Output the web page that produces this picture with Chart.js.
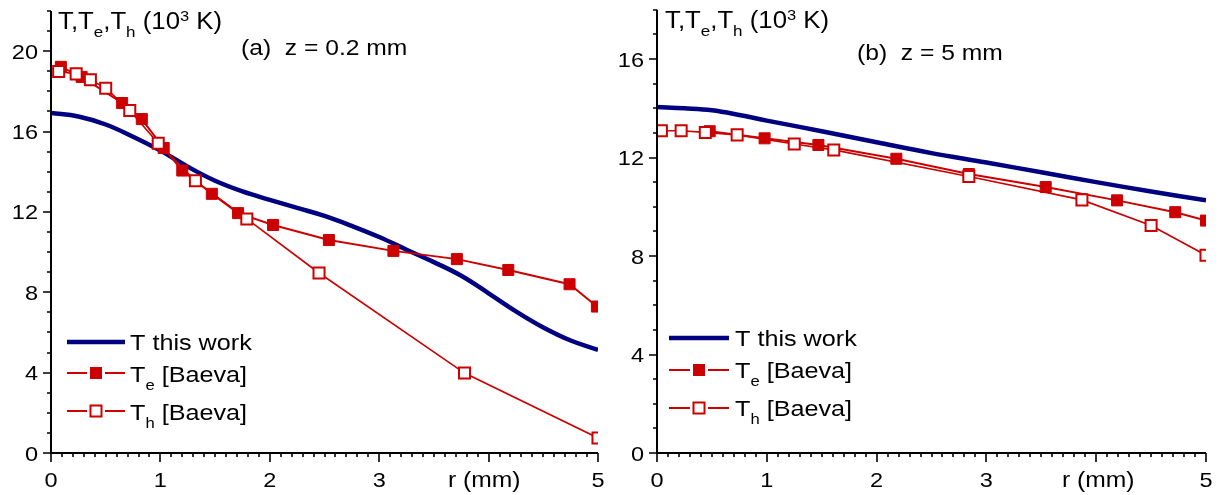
<!DOCTYPE html>
<html><head><meta charset="utf-8">
<script src="https://cdn.jsdelivr.net/npm/chart.js@4/dist/chart.umd.min.js"></script>
<style>
html,body{margin:0;padding:0;background:#fff;}
#wrap{position:relative;width:1221px;height:495px;overflow:hidden;}
canvas{position:absolute;top:0;}
#ca{left:0;}
#cb{left:610px;}
</style></head><body>
<div id="wrap"><canvas id="ca" width="610" height="495"></canvas><canvas id="cb" width="611" height="495"></canvas></div>
<script>
// ---------- DATA ----------
// Panel (a): z = 0.2 mm
const aR_T  = [0,0.25,0.5,0.75,1.0,1.25,1.5,1.75,2.0,2.25,2.5,2.75,3.0,3.25,3.5,3.75,4.0,4.25,4.5,4.75,5.0];
const aT    = [16.92,16.75,16.35,15.74,15.05,14.25,13.55,13.02,12.6,12.2,11.8,11.3,10.75,10.12,9.5,8.82,7.95,7.05,6.25,5.6,5.13];
const aR_Te = [0.09,0.28,0.65,0.83,1.03,1.2,1.47,1.71,2.03,2.54,3.13,3.71,4.18,4.74,4.99];
const aTe   = [19.22,18.72,17.42,16.62,15.18,14.06,12.9,11.94,11.35,10.6,10.06,9.65,9.11,8.4,7.29];
const aR_Th = [0.07,0.23,0.36,0.50,0.72,0.98,1.32,1.79,2.45,3.78,5.0];
const aTh   = [18.99,18.87,18.58,18.16,17.05,15.42,13.55,11.65,8.96,3.98,0.75];
// Panel (b): z = 5 mm
const bR_T  = [0,0.25,0.5,0.75,1.0,1.5,2.0,2.5,3.0,3.5,4.0,4.5,5.0];
const bT    = [14.05,14.0,13.92,13.73,13.5,13.07,12.62,12.18,11.8,11.4,11.0,10.62,10.26];
const bR_Te = [0.48,0.98,1.47,2.18,2.84,3.54,4.19,4.72,5.0];
const bTe   = [13.07,12.78,12.51,11.95,11.33,10.8,10.26,9.78,9.44];
const bR_Th = [0.04,0.22,0.44,0.73,1.25,1.61,2.84,3.87,4.5,5.0];
const bTh   = [13.09,13.09,13.02,12.92,12.55,12.31,11.23,10.28,9.24,8.03];
// Ticks / labels
const xTickValues  = [0,1,2,3,5];
const yTickValuesA = [0,4,8,12,16,20];
const yTickValuesB = [0,4,8,12,16];
const xAxisTitle   = 'r (mm)';
const panelTitleA  = '(a)  z = 0.2 mm';
const panelTitleB  = '(b)  z = 5 mm';
const yTitleParts  = [{t:'T,T'},{t:'e',sub:1},{t:',T'},{t:'h',sub:1},{t:' (10'},{t:'3',sup:1},{t:' K)'}];
const legendParts  = [
  [{t:'T this work'}],
  [{t:'T'},{t:'e',sub:1},{t:' [Baeva]'}],
  [{t:'T'},{t:'h',sub:1},{t:' [Baeva]'}]
];

// ---------- STYLE ----------
const RED = '#CC0000', BLUE = '#000080';
const SX = 1.12;
const FONT = '"Liberation Sans", Arial, sans-serif';

function txt(ctx, s, x, y, size, align){
  ctx.save();
  ctx.font = size + 'px ' + FONT;
  const w = ctx.measureText(s).width * SX;
  const x0 = align === 'right' ? x - w : (align === 'center' ? x - w/2 : x);
  ctx.translate(x0, y); ctx.scale(SX, 1);
  ctx.textAlign = 'left'; ctx.textBaseline = 'alphabetic';
  ctx.fillStyle = '#000';
  ctx.fillText(s, 0, 0);
  ctx.restore();
  return w;
}
function rich(ctx, parts, x, y, size){
  let cx = x;
  for (const p of parts){
    if (p.sub) cx += txt(ctx, p.t, cx, y + size*0.35, size*0.66, 'left');
    else if (p.sup) cx += txt(ctx, p.t, cx, y - size*0.34, size*0.64, 'left');
    else cx += txt(ctx, p.t, cx, y, size, 'left');
  }
  return cx - x;
}

const decor = {
  id: 'decor',
  afterDraw(chart){
    const o = chart.options.plugins.decor;
    const ctx = chart.ctx, a = chart.chartArea, xs = chart.scales.x, ys = chart.scales.y;
    ctx.save();
    ctx.strokeStyle = '#000';
    ctx.lineWidth = 1.6;
    ctx.beginPath();
    for (let i = 0; i <= 50; i++){
      const px = Math.round(xs.getPixelForValue(i/10));
      const L = (i % 10 === 0) ? 9 : 4;
      ctx.moveTo(px, a.bottom); ctx.lineTo(px, a.bottom + L);
    }
    for (let v = 0; v <= ys.max; v++){
      const py = Math.round(ys.getPixelForValue(v));
      const L = (v % 4 === 0) ? 8 : 4;
      ctx.moveTo(a.left, py); ctx.lineTo(a.left - L, py);
    }
    ctx.stroke();
    ctx.lineWidth = 2;
    ctx.beginPath();
    ctx.moveTo(a.left, a.top); ctx.lineTo(a.left, a.bottom); ctx.lineTo(a.right, a.bottom);
    ctx.stroke();
    // tick labels
    for (const v of xTickValues) txt(ctx, String(v), xs.getPixelForValue(v), 487, 21, 'center');
    for (const v of o.yTicks) txt(ctx, String(v), o.yLabRight, ys.getPixelForValue(v) + 7.5, 21, 'right');
    txt(ctx, xAxisTitle, o.xTitleX, 487, 22, 'left');
    // titles
    rich(ctx, yTitleParts, o.yTitleX, o.yTitleY, 23);
    txt(ctx, o.panelTitle, o.ptX, o.ptY, 22, 'left');
    // legend
    const lg = o.legend;
    const cx = (lg.x0 + lg.x1) / 2;
    ctx.lineCap = 'butt';
    ctx.strokeStyle = BLUE; ctx.lineWidth = 4.5;
    ctx.beginPath(); ctx.moveTo(lg.x0, lg.rows[0]); ctx.lineTo(lg.x1, lg.rows[0]); ctx.stroke();
    for (let k = 1; k <= 2; k++){
      const yy = lg.rows[k];
      ctx.strokeStyle = RED; ctx.lineWidth = 2;
      ctx.beginPath(); ctx.moveTo(lg.x0, yy); ctx.lineTo(cx - 9, yy); ctx.moveTo(cx + 9, yy); ctx.lineTo(lg.x1, yy); ctx.stroke();
      if (k === 1){ ctx.fillStyle = RED; ctx.fillRect(cx - 6, yy - 6, 12, 12); }
      else { ctx.fillStyle = '#fff'; ctx.fillRect(cx - 5.5, yy - 5.5, 11, 11); ctx.strokeRect(cx - 5.5, yy - 5.5, 11, 11); }
    }
    for (let k = 0; k < 3; k++) rich(ctx, legendParts[k], lg.tx, lg.base[k], 22.5);
    ctx.restore();
  }
};

function zip(xs, ys){ return xs.map((x, i) => ({x: x, y: ys[i]})); }

function build(id, d, pad, ymax, deco){
  return new Chart(document.getElementById(id), {
    type: 'line',
    data: { datasets: [
      { label: 'T this work', data: zip(d.rT, d.T), borderColor: BLUE, borderWidth: 4.5, pointRadius: 0,
        tension: 0.4, fill: false, order: 3 },
      { label: 'Te [Baeva]', data: zip(d.rTe, d.Te), borderColor: RED, borderWidth: 2, tension: 0,
        pointStyle: 'rect', pointRadius: 7.8, pointBackgroundColor: RED, pointBorderColor: RED, pointBorderWidth: 1, fill: false, order: 2 },
      { label: 'Th [Baeva]', data: zip(d.rTh, d.Th), borderColor: RED, borderWidth: 1.6, tension: 0,
        pointStyle: 'rect', pointRadius: 7.8, pointBackgroundColor: '#fff', pointBorderColor: RED, pointBorderWidth: 2, fill: false, order: 1 }
    ]},
    options: {
      responsive: false, animation: false, events: [],
      layout: { padding: pad },
      plugins: { legend: { display: false }, tooltip: { enabled: false }, decor: deco },
      scales: {
        x: { type: 'linear', min: 0, max: 5, display: false },
        y: { type: 'linear', min: 0, max: ymax, display: false }
      }
    },
    plugins: [decor]
  });
}

build('ca', {rT: aR_T, T: aT, rTe: aR_Te, Te: aTe, rTh: aR_Th, Th: aTh},
  {left: 51, right: 12, top: 11, bottom: 42}, 22,
  {yTicks: yTickValuesA, yLabRight: 38, xTitleX: 448, yTitleX: 58, yTitleY: 29, panelTitle: panelTitleA, ptX: 241, ptY: 55,
   legend: {x0: 67, x1: 125, tx: 130, rows: [342, 373, 411], base: [350, 382, 420]}});

build('cb', {rT: bR_T, T: bT, rTe: bR_Te, Te: bTe, rTh: bR_Th, Th: bTh},
  {left: 47, right: 15, top: 9, bottom: 42}, 18,
  {yTicks: yTickValuesB, yLabRight: 34, xTitleX: 452, yTitleX: 55, yTitleY: 28, panelTitle: panelTitleB, ptX: 247, ptY: 60,
   legend: {x0: 59, x1: 119, tx: 125, rows: [338, 370, 408], base: [346, 378, 416]}});
</script>
</body></html>
